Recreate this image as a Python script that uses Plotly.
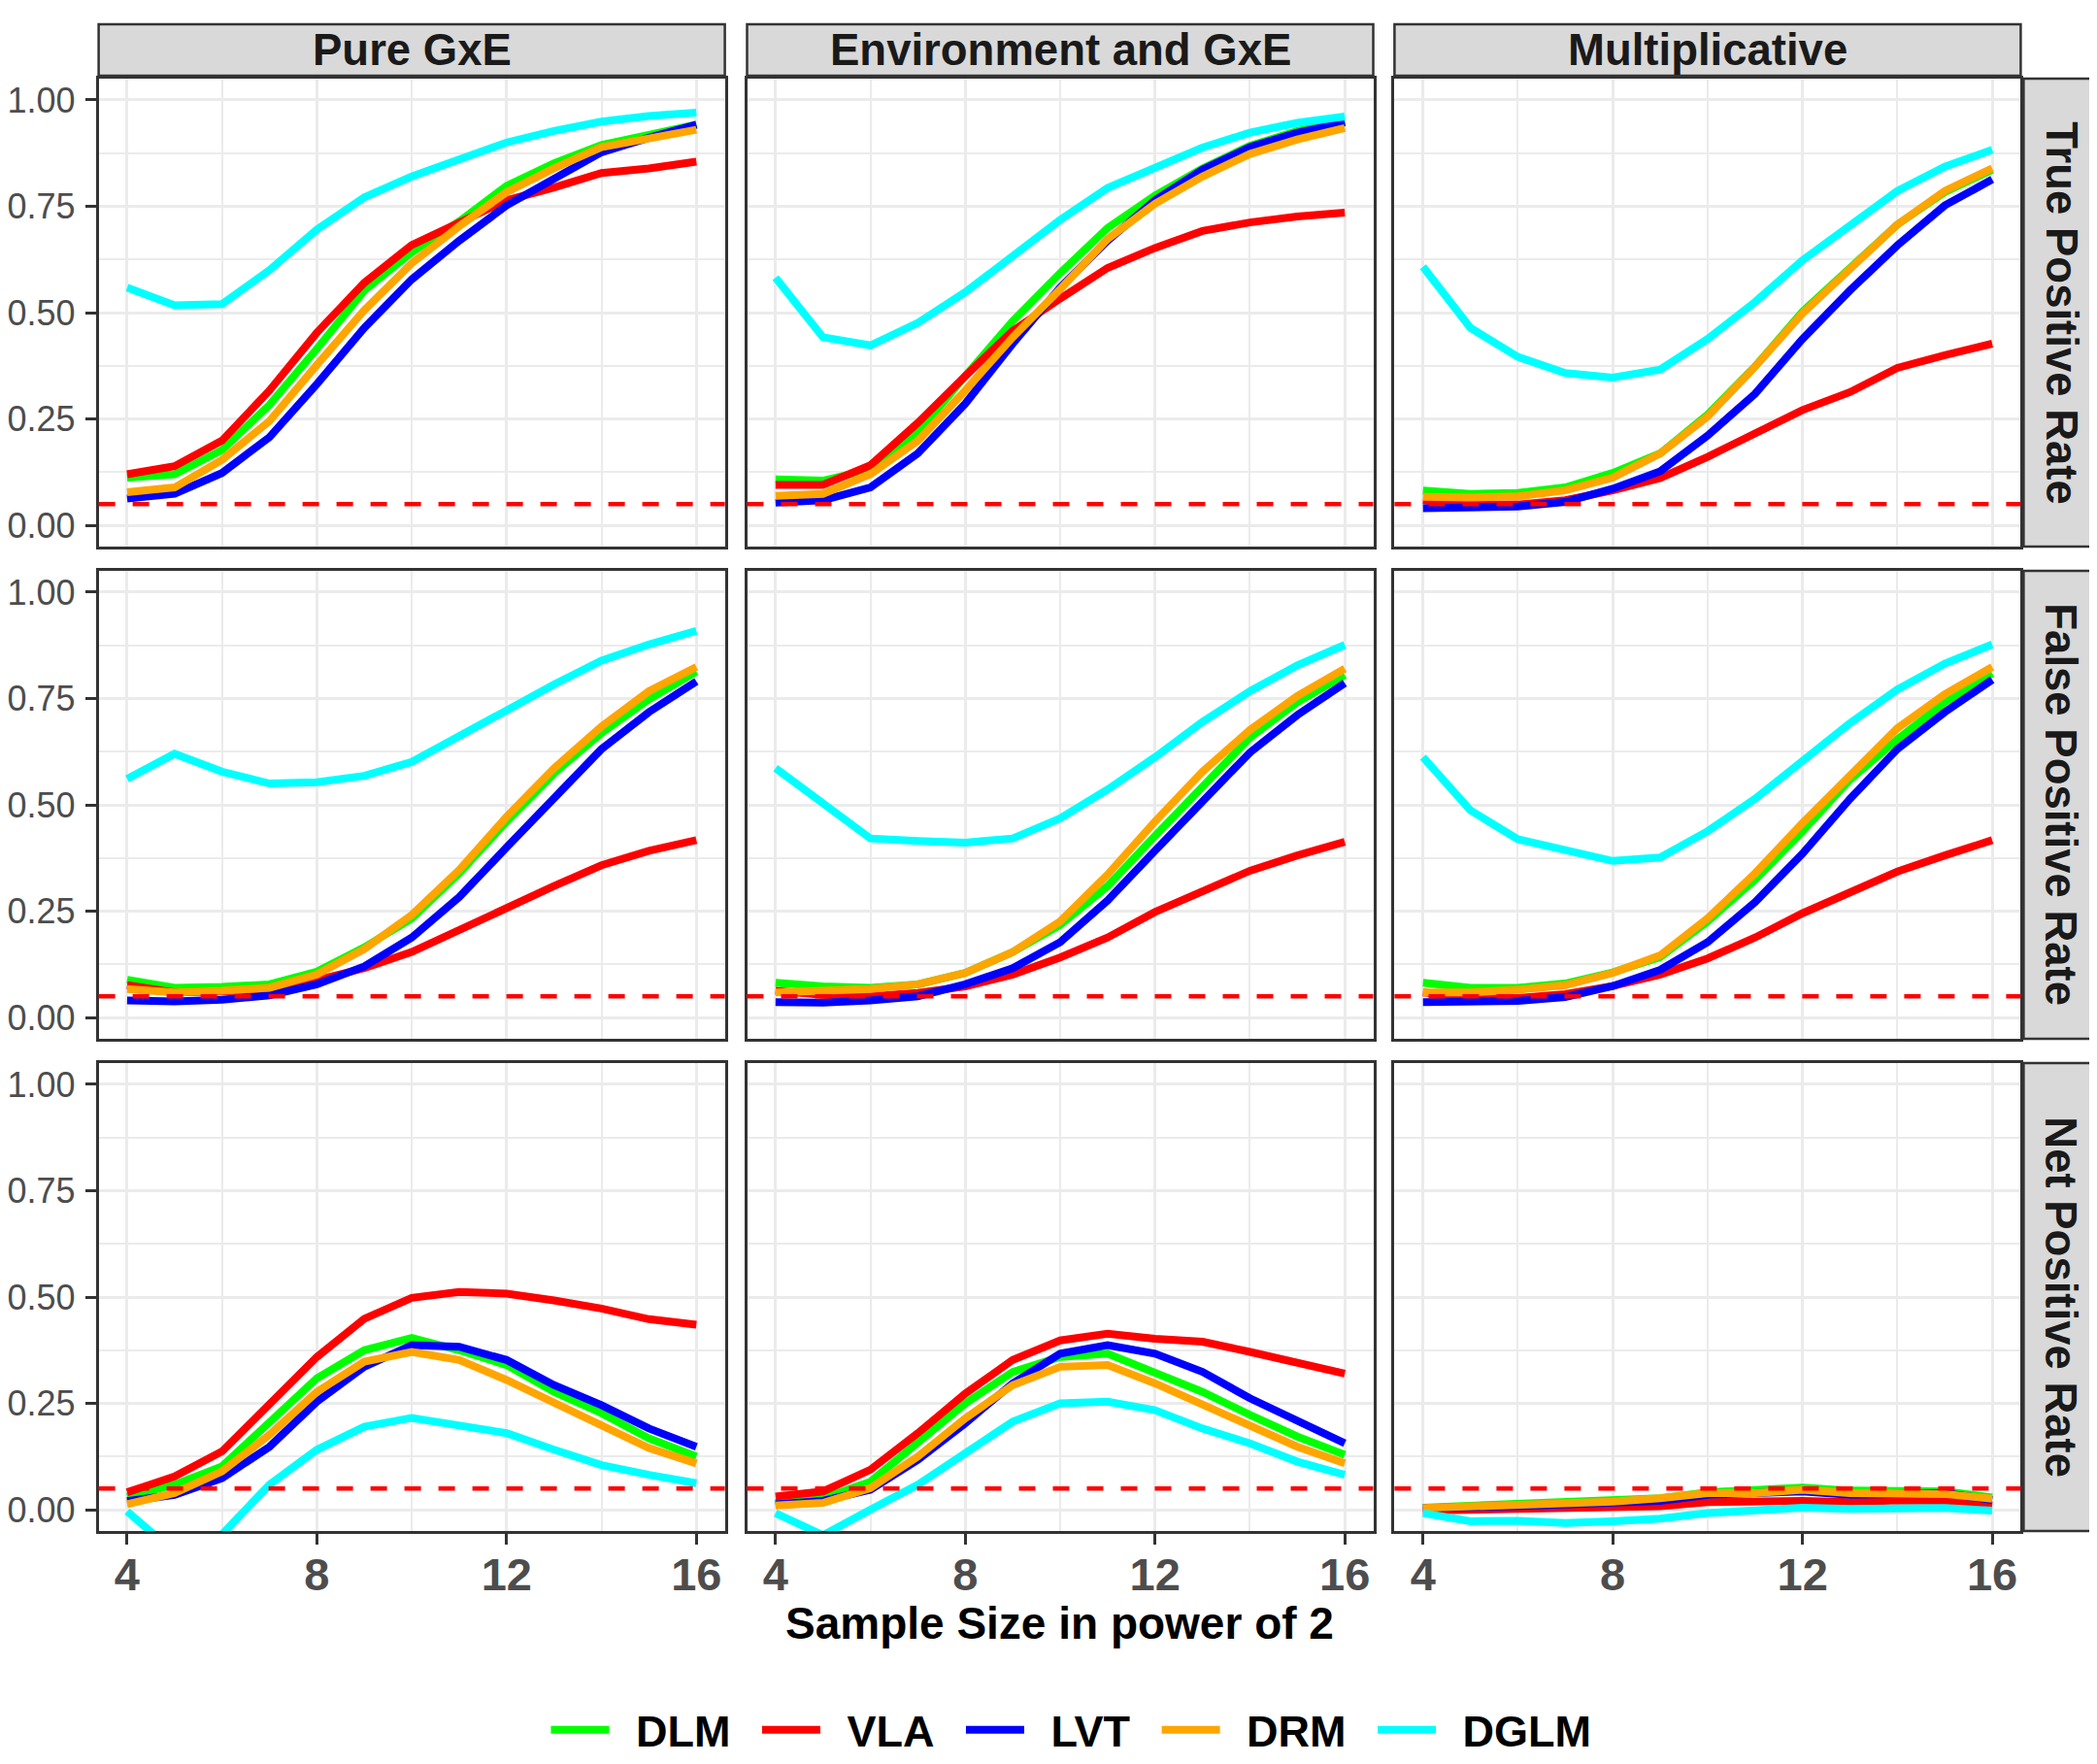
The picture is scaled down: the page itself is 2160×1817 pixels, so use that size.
import plotly.graph_objects as go

# Full-size figure; the page body adds an 8px offset, which the geometry compensates.
W, H = 2160, 1817
OFF = 8

SAMPLE_POWER = [4, 5, 6, 7, 8, 9, 10, 11, 12, 13, 14, 15, 16]
METHODS = ["DLM", "VLA", "LVT", "DRM", "DGLM"]
COLORS = {"DLM": "#00FF00", "VLA": "#FF0000", "LVT": "#0000FF",
          "DRM": "#FFA500", "DGLM": "#00FFFF"}
SCENARIOS = ["Pure GxE", "Environment and GxE", "Multiplicative"]
METRICS = ["True Positive Rate", "False Positive Rate", "Net Positive Rate"]
ALPHA = 0.05
X_TICKS = [4, 8, 12, 16]
Y_TICKS = [0.0, 0.25, 0.5, 0.75, 1.0]
Y_TICK_LABELS = ["0.00", "0.25", "0.50", "0.75", "1.00"]
X_TITLE = "Sample Size in power of 2"

TPR_PURE = {
    "DLM": [0.112, 0.12, 0.177, 0.283, 0.415, 0.552, 0.642, 0.714, 0.798, 0.851, 0.894, 0.919, 0.942],
    "VLA": [0.12, 0.139, 0.199, 0.317, 0.453, 0.570, 0.659, 0.714, 0.764, 0.794, 0.828, 0.839, 0.855],
    "LVT": [0.063, 0.074, 0.123, 0.207, 0.332, 0.464, 0.578, 0.669, 0.752, 0.817, 0.877, 0.911, 0.942],
    "DRM": [0.078, 0.089, 0.154, 0.245, 0.377, 0.506, 0.616, 0.703, 0.783, 0.839, 0.889, 0.911, 0.93],
    "DGLM": [0.559, 0.517, 0.52, 0.60, 0.695, 0.771, 0.82, 0.862, 0.90, 0.927, 0.949, 0.962, 0.97],
}
TPR_ENV = {
    "DLM": [0.108, 0.105, 0.131, 0.218, 0.351, 0.48, 0.593, 0.699, 0.775, 0.839, 0.892, 0.927, 0.95],
    "VLA": [0.095, 0.095, 0.141, 0.241, 0.351, 0.457, 0.533, 0.605, 0.652, 0.692, 0.712, 0.726, 0.735],
    "LVT": [0.053, 0.059, 0.089, 0.169, 0.286, 0.427, 0.559, 0.669, 0.764, 0.836, 0.889, 0.923, 0.947],
    "DRM": [0.069, 0.074, 0.12, 0.199, 0.317, 0.442, 0.555, 0.673, 0.756, 0.820, 0.873, 0.907, 0.934],
    "DGLM": [0.582, 0.442, 0.423, 0.476, 0.548, 0.633, 0.718, 0.793, 0.842, 0.888, 0.923, 0.946, 0.961],
}
TPR_MULT = {
    "DLM": [0.082, 0.074, 0.076, 0.089, 0.123, 0.169, 0.26, 0.373, 0.502, 0.605, 0.707, 0.783, 0.836],
    "VLA": [0.059, 0.048, 0.049, 0.059, 0.082, 0.111, 0.161, 0.214, 0.271, 0.313, 0.370, 0.40, 0.427],
    "LVT": [0.04, 0.04, 0.044, 0.055, 0.086, 0.127, 0.211, 0.309, 0.438, 0.552, 0.658, 0.752, 0.813],
    "DRM": [0.067, 0.065, 0.068, 0.082, 0.112, 0.169, 0.256, 0.373, 0.498, 0.605, 0.707, 0.786, 0.839],
    "DGLM": [0.608, 0.464, 0.396, 0.358, 0.347, 0.366, 0.438, 0.525, 0.623, 0.707, 0.786, 0.843, 0.883],
}
FPR_PURE = {
    "DLM": [0.089, 0.070, 0.072, 0.078, 0.108, 0.165, 0.233, 0.339, 0.461, 0.574, 0.669, 0.748, 0.813],
    "VLA": [0.076, 0.059, 0.061, 0.067, 0.088, 0.116, 0.154, 0.207, 0.26, 0.309, 0.358, 0.392, 0.417],
    "LVT": [0.04, 0.038, 0.042, 0.052, 0.078, 0.12, 0.188, 0.283, 0.40, 0.517, 0.631, 0.718, 0.79],
    "DRM": [0.067, 0.059, 0.063, 0.07, 0.101, 0.161, 0.241, 0.347, 0.472, 0.586, 0.684, 0.767, 0.824],
    "DGLM": [0.561, 0.62, 0.578, 0.55, 0.553, 0.568, 0.601, 0.664, 0.722, 0.783, 0.839, 0.877, 0.909],
}
FPR_ENV = {
    "DLM": [0.082, 0.073, 0.070, 0.078, 0.105, 0.154, 0.218, 0.309, 0.427, 0.544, 0.658, 0.741, 0.805],
    "VLA": [0.063, 0.053, 0.05, 0.058, 0.073, 0.101, 0.141, 0.188, 0.248, 0.298, 0.345, 0.381, 0.413],
    "LVT": [0.036, 0.035, 0.04, 0.05, 0.078, 0.116, 0.177, 0.275, 0.392, 0.51, 0.623, 0.711, 0.786],
    "DRM": [0.059, 0.061, 0.067, 0.078, 0.105, 0.154, 0.226, 0.336, 0.461, 0.578, 0.676, 0.756, 0.82],
    "DGLM": [0.586, 0.506, 0.421, 0.415, 0.411, 0.421, 0.468, 0.536, 0.612, 0.695, 0.767, 0.828, 0.876],
}
FPR_MULT = {
    "DLM": [0.082, 0.07, 0.07, 0.08, 0.106, 0.142, 0.226, 0.324, 0.438, 0.559, 0.654, 0.741, 0.809],
    "VLA": [0.059, 0.048, 0.046, 0.055, 0.074, 0.101, 0.139, 0.188, 0.245, 0.294, 0.343, 0.381, 0.417],
    "LVT": [0.036, 0.038, 0.039, 0.048, 0.074, 0.112, 0.177, 0.271, 0.385, 0.514, 0.631, 0.718, 0.794],
    "DRM": [0.059, 0.059, 0.065, 0.076, 0.105, 0.146, 0.233, 0.339, 0.457, 0.57, 0.68, 0.76, 0.824],
    "DGLM": [0.612, 0.487, 0.419, 0.392, 0.368, 0.376, 0.438, 0.514, 0.605, 0.692, 0.771, 0.832, 0.877],
}
NPR_PURE = {
    "DLM": [0.031, 0.059, 0.102, 0.203, 0.309, 0.375, 0.404, 0.375, 0.34, 0.277, 0.227, 0.168, 0.125],
    "VLA": [0.041, 0.078, 0.137, 0.246, 0.359, 0.449, 0.498, 0.512, 0.508, 0.492, 0.473, 0.448, 0.435],
    "LVT": [0.02, 0.035, 0.074, 0.148, 0.254, 0.336, 0.387, 0.383, 0.352, 0.293, 0.246, 0.191, 0.148],
    "DRM": [0.013, 0.039, 0.09, 0.176, 0.277, 0.348, 0.371, 0.352, 0.305, 0.25, 0.199, 0.145, 0.109],
    "DGLM": [-0.004, -0.10, -0.058, 0.059, 0.141, 0.195, 0.216, 0.199, 0.18, 0.141, 0.105, 0.082, 0.0625],
}
NPR_ENV = {
    "DLM": [0.016, 0.027, 0.066, 0.156, 0.25, 0.324, 0.359, 0.367, 0.324, 0.277, 0.223, 0.172, 0.129],
    "VLA": [0.031, 0.043, 0.094, 0.18, 0.273, 0.352, 0.398, 0.414, 0.402, 0.395, 0.371, 0.346, 0.32],
    "LVT": [0.013, 0.021, 0.047, 0.117, 0.203, 0.297, 0.367, 0.387, 0.367, 0.324, 0.262, 0.211, 0.156],
    "DRM": [0.01, 0.016, 0.051, 0.125, 0.215, 0.293, 0.336, 0.34, 0.297, 0.246, 0.195, 0.148, 0.109],
    "DGLM": [-0.008, -0.06, 0.0, 0.059, 0.133, 0.207, 0.25, 0.254, 0.234, 0.191, 0.156, 0.113, 0.082],
}
NPR_MULT = {
    "DLM": [0.005, 0.01, 0.012, 0.016, 0.021, 0.027, 0.041, 0.047, 0.052, 0.045, 0.043, 0.043, 0.029],
    "VLA": [-0.002, 0.0, 0.002, 0.0, 0.004, 0.008, 0.018, 0.02, 0.021, 0.018, 0.022, 0.021, 0.01],
    "LVT": [0.004, 0.005, 0.008, 0.012, 0.016, 0.021, 0.035, 0.037, 0.043, 0.035, 0.039, 0.039, 0.023],
    "DRM": [0.004, 0.007, 0.009, 0.013, 0.019, 0.027, 0.039, 0.039, 0.047, 0.039, 0.039, 0.037, 0.026],
    "DGLM": [-0.008, -0.027, -0.026, -0.031, -0.027, -0.021, -0.008, 0.0, 0.005, 0.002, 0.005, 0.004, -0.002],
}

PANELS = [
    [TPR_PURE, TPR_ENV, TPR_MULT],
    [FPR_PURE, FPR_ENV, FPR_MULT],
    [NPR_PURE, NPR_ENV, NPR_MULT],
]

# ---- layout geometry (page pixels) ----
COL_LEFT = [92, 763, 1433]
PANEL_W = 648
ROW_TOP = [81, 588, 1095]
PANEL_H = 482
STRIP_TOP = (25, 78)
STRIP_RIGHT = (2084, 2157)


def fx(p):
    return (p - OFF) / W


def fy(p):
    return 1 - (p - OFF) / H


FONT = "Liberation Sans, Arial, Helvetica, sans-serif"
GRID = "#EBEBEB"
BORDER = "#333333"

fig = go.Figure()
layout_axes = {}

for r in range(3):
    for c in range(3):
        k = r * 3 + c + 1
        xa = "x" if k == 1 else f"x{k}"
        ya = "y" if k == 1 else f"y{k}"
        data = PANELS[r][c]
        for m in METHODS:
            fig.add_trace(go.Scatter(
                x=SAMPLE_POWER, y=data[m], mode="lines",
                name="\u2002" + m + "\u2002",
                line=dict(color=COLORS[m], width=8),
                xaxis=xa, yaxis=ya, showlegend=(k == 1), legendgroup=m,
                hoverinfo="skip"))
        show_x = (r == 2)
        show_y = (c == 0)
        layout_axes["xaxis" if k == 1 else f"xaxis{k}"] = dict(
            domain=[fx(COL_LEFT[c]), fx(COL_LEFT[c] + PANEL_W)], anchor=ya,
            range=[3.4, 16.6],
            tickmode="array", tickvals=X_TICKS,
            ticktext=[str(v) for v in X_TICKS],
            showticklabels=show_x,
            ticks="outside" if show_x else "", ticklen=11, tickwidth=3, tickcolor=BORDER,
            ticklabelstandoff=-9,
            tickfont=dict(family=FONT, size=47, color="#4D4D4D", weight="bold"),
            showgrid=True, gridcolor=GRID, gridwidth=3.2,
            minor=dict(tickmode="array", tickvals=[6, 10, 14], showgrid=True,
                       gridcolor=GRID, gridwidth=1.6, ticks=""),
            showline=True, mirror=True, linecolor=BORDER, linewidth=2.5,
            zeroline=False, fixedrange=True)
        layout_axes["yaxis" if k == 1 else f"yaxis{k}"] = dict(
            domain=[fy(ROW_TOP[r] + PANEL_H), fy(ROW_TOP[r])], anchor=xa,
            range=[-0.05, 1.05],
            tickmode="array", tickvals=Y_TICKS, ticktext=Y_TICK_LABELS,
            showticklabels=show_y,
            ticks="outside" if show_y else "", ticklen=11, tickwidth=3, tickcolor=BORDER,
            ticklabelstandoff=3,
            tickfont=dict(family=FONT, size=36, color="#4D4D4D"),
            showgrid=True, gridcolor=GRID, gridwidth=3.2,
            minor=dict(tickmode="array", tickvals=[0.125, 0.375, 0.625, 0.875],
                       showgrid=True, gridcolor=GRID, gridwidth=1.6, ticks=""),
            showline=True, mirror=True, linecolor=BORDER, linewidth=2.5,
            zeroline=False, fixedrange=True)
        # reference line at alpha
        fig.add_shape(type="line", xref=f"{xa} domain", yref=ya,
                      x0=0, x1=1, y0=ALPHA, y1=ALPHA, layer="above",
                      line=dict(color="#FF0000", width=4.5, dash="17px,18px"))

annotations = []
# top strips
for c, name in enumerate(SCENARIOS):
    fig.add_shape(
        type="rect", xref="paper", yref="paper",
        x0=fx(COL_LEFT[c]), x1=fx(COL_LEFT[c] + PANEL_W),
        y0=fy(STRIP_TOP[1]), y1=fy(STRIP_TOP[0]),
        fillcolor="#D9D9D9", line=dict(color=BORDER, width=2.5), layer="above")
    annotations.append(dict(
        text=name, xref="paper", yref="paper", showarrow=False,
        x=fx(COL_LEFT[c] + PANEL_W / 2),
        y=fy((STRIP_TOP[0] + STRIP_TOP[1]) / 2),
        xanchor="center", yanchor="middle",
        font=dict(family=FONT, size=45.5, color="#1A1A1A", weight="bold")))
# right strips
for r, name in enumerate(METRICS):
    fig.add_shape(
        type="rect", xref="paper", yref="paper",
        x0=fx(STRIP_RIGHT[0]), x1=fx(STRIP_RIGHT[1]),
        y0=fy(ROW_TOP[r] + PANEL_H), y1=fy(ROW_TOP[r]),
        fillcolor="#D9D9D9", line=dict(color=BORDER, width=2.5), layer="above")
    annotations.append(dict(
        text=name, xref="paper", yref="paper", showarrow=False, textangle=90,
        x=fx((STRIP_RIGHT[0] + STRIP_RIGHT[1]) / 2 + 2),
        y=fy(ROW_TOP[r] + PANEL_H / 2),
        xanchor="center", yanchor="middle",
        font=dict(family=FONT, size=45.5, color="#1A1A1A", weight="bold")))
# x axis title
annotations.append(dict(
    text=X_TITLE, xref="paper", yref="paper", showarrow=False,
    x=fx((COL_LEFT[0] + COL_LEFT[2] + PANEL_W) / 2), y=fy(1672),
    xanchor="center", yanchor="middle",
    font=dict(family=FONT, size=46, color="#000000", weight="bold")))

fig.update_layout(
    width=W, height=H,
    margin=dict(l=0, r=0, t=0, b=0),
    paper_bgcolor="white", plot_bgcolor="white",
    font=dict(family=FONT),
    showlegend=True,
    legend=dict(orientation="h", x=fx(555), xanchor="left",
                y=fy(1782), yanchor="middle",
                font=dict(family=FONT, size=45, color="#000000", weight="bold"),
                itemwidth=60, tracegroupgap=0, bgcolor="rgba(0,0,0,0)"),
    annotations=annotations,
    **layout_axes,
)

fig.write_html("out.html")
